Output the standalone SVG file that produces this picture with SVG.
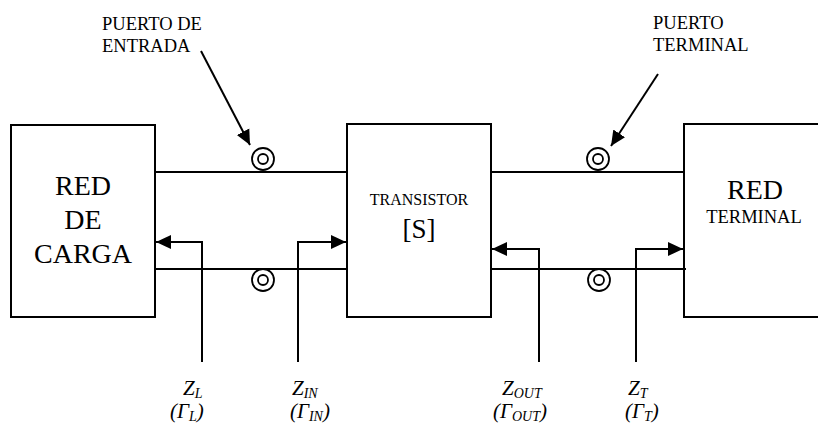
<svg xmlns="http://www.w3.org/2000/svg" width="818" height="428" viewBox="0 0 818 428" font-family="Liberation Serif, serif">
<style>
.box{fill:#fff;stroke:#000;stroke-width:2}
.ln{fill:none;stroke:#000;stroke-width:2}
.port{fill:none;stroke:#000;stroke-width:1.8}
text{font-family:"Liberation Serif","Times New Roman",serif;fill:#000}
.big{font-size:28px}
.sm{font-size:18.5px}
.it{font-style:italic;font-size:21px}
.sub{font-size:14px}
</style>
<defs>
<marker id="ah" markerUnits="userSpaceOnUse" markerWidth="16" markerHeight="16" viewBox="0 0 16 16" refX="15" refY="8" orient="auto">
<path d="M0,1 L15,8 L0,15 Z" fill="#000"/>
</marker>
</defs>
<rect width="818" height="428" fill="#fff"/>
<g id="red-carga">
<rect class="box" x="11" y="125" width="144" height="192"/>
<text class="big" x="83" y="195" text-anchor="middle">RED</text>
<text class="big" x="83" y="229" text-anchor="middle">DE</text>
<text class="big" x="83" y="263" text-anchor="middle">CARGA</text>
</g>
<g id="transistor">
<rect class="box" x="347" y="124" width="144" height="193"/>
<text x="419" y="205" text-anchor="middle" font-size="16">TRANSISTOR</text>
<text x="419" y="238" text-anchor="middle" font-size="27">[S]</text>
</g>
<g id="red-terminal">
<rect class="box" x="684" y="124" width="150" height="193"/>
<text class="big" x="755" y="199" text-anchor="middle">RED</text>
<text class="sm" x="754" y="223" text-anchor="middle">TERMINAL</text>
</g>
<g id="puerto-entrada">
<circle class="port" cx="263" cy="159" r="11"/>
<circle class="port" cx="263" cy="159" r="5"/>
<circle class="port" cx="263" cy="280" r="11"/>
<circle class="port" cx="263" cy="280" r="5"/>
<text class="sm" x="102" y="30">PUERTO DE</text>
<text class="sm" x="102" y="52">ENTRADA</text>
</g>
<g id="puerto-terminal">
<circle class="port" cx="598" cy="159" r="11"/>
<circle class="port" cx="598" cy="159" r="5"/>
<circle class="port" cx="599" cy="280" r="11"/>
<circle class="port" cx="599" cy="280" r="5"/>
<text class="sm" x="653" y="29">PUERTO</text>
<text class="sm" x="653" y="51">TERMINAL</text>
</g>
<g id="connectors">
<line class="ln" x1="155" y1="172" x2="347" y2="172"/>
<line class="ln" x1="155" y1="269" x2="347" y2="269"/>
<line class="ln" x1="491" y1="172" x2="685" y2="172"/>
<line class="ln" x1="491" y1="269" x2="686" y2="269"/>
<line class="ln" x1="201" y1="51" x2="250" y2="145" marker-end="url(#ah)"/>
<line class="ln" x1="658" y1="74" x2="611" y2="146" marker-end="url(#ah)"/>
<polyline class="ln" points="202,362 202,242 156,242" marker-end="url(#ah)"/>
<polyline class="ln" points="298,362 298,242 346,242" marker-end="url(#ah)"/>
<polyline class="ln" points="539,362 539,249 492,249" marker-end="url(#ah)"/>
<polyline class="ln" points="636,362 636,249 683,249" marker-end="url(#ah)"/>
</g>
<g id="labels">
<text class="it" x="183" y="395">Z<tspan class="sub" dy="3">L</tspan></text>
<text class="it" x="170" y="418">(Γ<tspan class="sub" dy="3">L</tspan><tspan dy="-3">)</tspan></text>
<text class="it" x="292" y="395">Z<tspan class="sub" dy="3">IN</tspan></text>
<text class="it" x="290" y="418">(Γ<tspan class="sub" dy="3">IN</tspan><tspan dy="-3">)</tspan></text>
<text class="it" x="502" y="395">Z<tspan class="sub" dy="3">OUT</tspan></text>
<text class="it" x="493" y="418">(Γ<tspan class="sub" dy="3">OUT</tspan><tspan dy="-3">)</tspan></text>
<text class="it" x="628" y="395">Z<tspan class="sub" dy="3">T</tspan></text>
<text class="it" x="625" y="418">(Γ<tspan class="sub" dy="3">T</tspan><tspan dy="-3">)</tspan></text>
</g>
</svg>
